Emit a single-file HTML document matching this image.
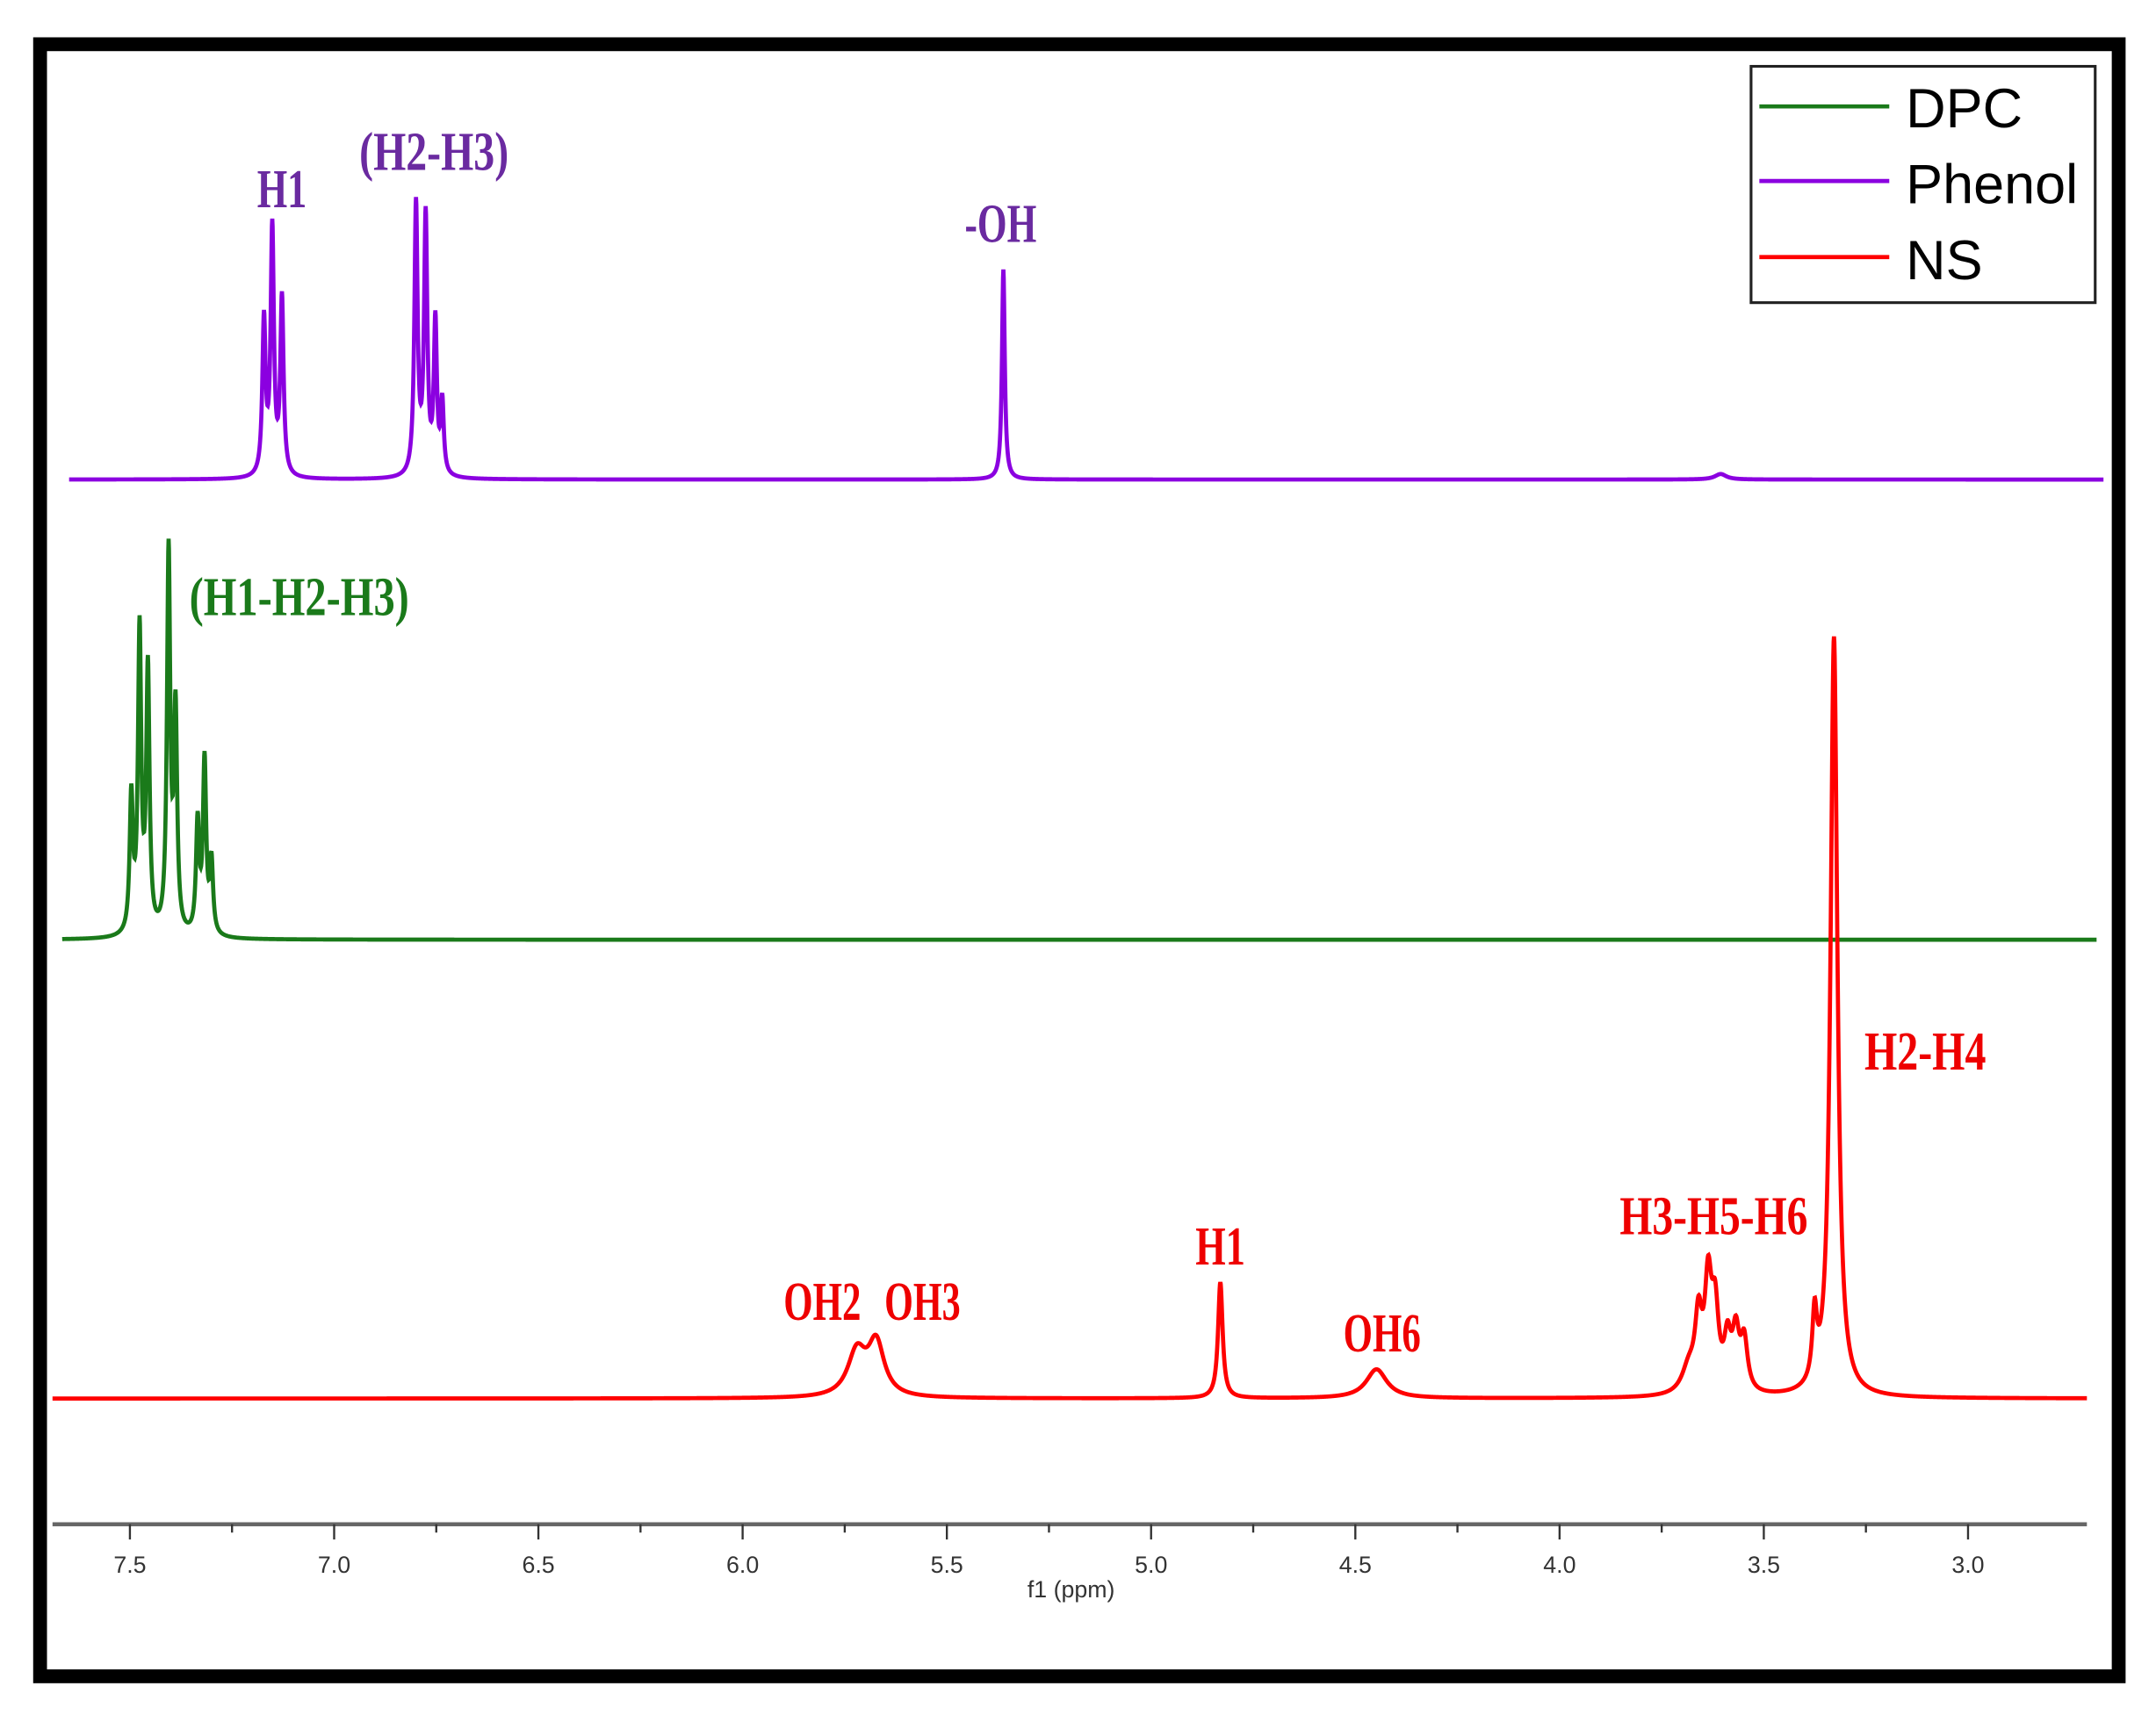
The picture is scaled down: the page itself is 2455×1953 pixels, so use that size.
<!DOCTYPE html>
<html><head><meta charset="utf-8"><style>
html,body{margin:0;padding:0;background:#fff;}
svg{display:block;}
.lab{font-family:"Liberation Serif",serif;font-weight:bold;font-size:40px;}
.tk{font-family:"Liberation Sans",sans-serif;font-size:17px;fill:#333;}
.lg{font-family:"Liberation Sans",sans-serif;font-size:40px;fill:#000;}
</style></head><body>
<svg id="s" width="2455" height="1953" viewBox="0 0 1560 1241" preserveAspectRatio="none" xmlns="http://www.w3.org/2000/svg">
<rect x="0" y="0" width="1560" height="1241" fill="#fff"/>
<rect x="29" y="32" width="1504" height="1181" fill="none" stroke="#000" stroke-width="10"/>
<!-- legend -->
<rect x="1267" y="48" width="249" height="171" fill="#fff" stroke="#222" stroke-width="2"/>
<line x1="1273" y1="77" x2="1367" y2="77" stroke="#1a7a1a" stroke-width="3"/>
<line x1="1273" y1="131" x2="1367" y2="131" stroke="#8b00e0" stroke-width="3"/>
<line x1="1273" y1="186" x2="1367" y2="186" stroke="#ff0000" stroke-width="3"/>
<text class="lg" x="1379" y="92">DPC</text>
<text class="lg" x="1379" y="147">Phenol</text>
<text class="lg" x="1379" y="202">NS</text>
<!-- axis -->
<line x1="38" y1="1103" x2="1510" y2="1103" stroke="#666" stroke-width="3"/>
<g id="ticks"></g>
<text class="tk" x="775" y="1156" text-anchor="middle" font-size="15">f1 (ppm)</text>
<path id="p1" fill="none" stroke="#8b00e0" stroke-width="3"/>
<path id="p2" fill="none" stroke="#1a7a1a" stroke-width="3"/>
<path id="p3" fill="none" stroke="#ff0000" stroke-width="3"/>
<!-- labels -->
<text class="lab" fill="#6a2aa0" x="186" y="150" textLength="36" lengthAdjust="spacingAndGlyphs">H1</text>
<text class="lab" fill="#6a2aa0" x="260" y="123" textLength="108" lengthAdjust="spacingAndGlyphs">(H2-H3)</text>
<text class="lab" fill="#6a2aa0" x="698" y="175" textLength="52" lengthAdjust="spacingAndGlyphs">-OH</text>
<text class="lab" fill="#1a7a1a" x="137" y="445" textLength="159" lengthAdjust="spacingAndGlyphs">(H1-H2-H3)</text>
<text class="lab" fill="#ee0000" x="1349" y="774" textLength="88" lengthAdjust="spacingAndGlyphs">H2-H4</text>
<text class="lab" fill="#ee0000" x="1172" y="893" textLength="136" lengthAdjust="spacingAndGlyphs">H3-H5-H6</text>
<text class="lab" fill="#ee0000" x="865" y="915" textLength="36" lengthAdjust="spacingAndGlyphs">H1</text>
<text class="lab" fill="#ee0000" x="567" y="955" textLength="56" lengthAdjust="spacingAndGlyphs">OH2</text>
<text class="lab" fill="#ee0000" x="640" y="955" textLength="55" lengthAdjust="spacingAndGlyphs">OH3</text>
<text class="lab" fill="#ee0000" x="972" y="978" textLength="56" lengthAdjust="spacingAndGlyphs">OH6</text>
</svg>
<script>
function build(id,base,x0,x1,peaks){
  var d="";
  for(var x=x0;x<=x1;x+=0.25){
    var y=base;
    for(var i=0;i<peaks.length;i++){var p=peaks[i];var dx=x-p[0];y-=p[1]*p[2]*p[2]/(dx*dx+p[2]*p[2]);}
    d+=(d?"L":"M")+x.toFixed(2)+" "+y.toFixed(2);
  }
  document.getElementById(id).setAttribute("d",d);
}
build("p1",347,50,1522,[[191,112,1.4],[197,178,1.4],[204,128,1.4],[301,196,1.4],[308,186,1.4],[315,110,1.3],[320,52,1.3],[726,152,1.2],[1245,4,5]]);
build("p2",680,45,1517,[[95,98,1.4],[101,218,1.4],[107,190,1.4],[122,275,1.4],[127,158,1.4],[143,80,1.4],[148,125,1.4],[153,52,1.4]]);
build("p3",1012,38,1510,[[620,32,8],[634,38,7],[883,84,2],[996,21,9],[1222,18,6],[1229,50,3],[1236,75,3],[1241,55,3],[1250,35,3],[1256,40,3],[1262,36,3],[1313,48,2],[1327,550,3]]);
var g=document.getElementById("ticks"),ns="http://www.w3.org/2000/svg";
var step=(1424-94)/9;
for(var i=0;i<=19;i++){
  var x=94+i*step/2-step/2; if(x<40||x>1508)continue;
  var major=(i%2==1);
  var l=document.createElementNS(ns,"line");
  l.setAttribute("x1",x);l.setAttribute("x2",x);l.setAttribute("y1",1103);l.setAttribute("y2",major?1114:1109);
  l.setAttribute("stroke","#333");l.setAttribute("stroke-width","1.5");g.appendChild(l);
}
var labs=["7.5","7.0","6.5","6.0","5.5","5.0","4.5","4.0","3.5","3.0"];
for(var j=0;j<10;j++){
  var t=document.createElementNS(ns,"text");t.setAttribute("class","tk");
  t.setAttribute("x",94+j*step);t.setAttribute("y",1138);t.setAttribute("text-anchor","middle");
  t.textContent=labs[j];g.appendChild(t);
}
</script>
</body></html>
